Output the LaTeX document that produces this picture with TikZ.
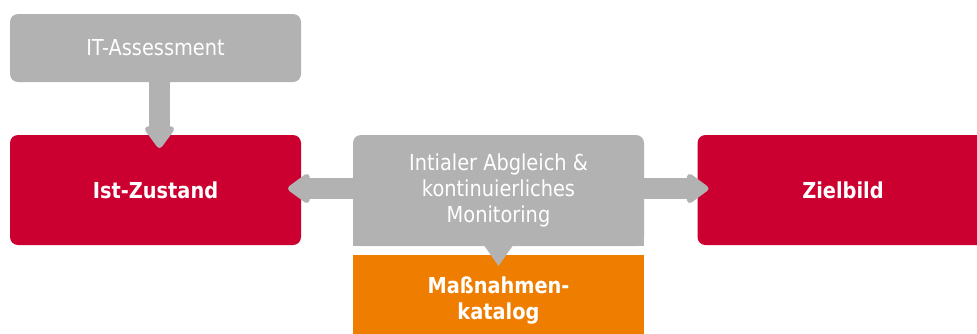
\documentclass[tikz,border=0pt]{standalone}
\usepackage{fontspec}
\setmainfont{DejaVu Sans}[FakeStretch=0.88]
\usetikzlibrary{arrows.meta}
\definecolor{lgrau}{HTML}{B2B2B2}
\definecolor{drot}{HTML}{CC0030}
\definecolor{morange}{HTML}{EF7D00}
\begin{document}
\begin{tikzpicture}[x=0.75pt,y=-0.75pt,
    box/.style={inner sep=0pt, outer sep=0pt, minimum width=218.25pt, align=center, text=white,
        font=\fontsize{16.5}{19.5}\selectfont},
    fett/.style={font=\fontsize{16.5}{19.5}\selectfont\bfseries},
    pfeil/.style={lgrau, line width=16pt, -{Triangle[width=25pt,length=18pt,round]}}]
    \useasboundingbox (0,0) rectangle (977,333);
    \node[box, fill=lgrau, rounded corners=6pt, minimum height=51pt] (it) at (155.5,48) {IT-Assessment};
    \node[box, fett, fill=drot, rounded corners=6pt, minimum height=82.5pt] (ist) at (155.5,190) {Ist-Zustand};
    \node[box, fett, fill=drot, rounded corners=6pt, minimum height=82.5pt] (ziel) at (843,190) {Zielbild};
    \node[box, fett, fill=morange, minimum height=69pt] (katalog) at (498.5,301) {Maßnahmen-\\katalog};
    \node[box, fill=lgrau, rounded corners=6pt, minimum height=83.25pt] (abgleich) at (498.5,190.5) {};
    \fill[lgrau] (abgleich.south west) rectangle ([yshift=8pt]abgleich.south east);
    \node[box] at (abgleich) {Intialer Abgleich \&\\kontinuierliches\\Monitoring};
    % pfeile
    \draw[pfeil, shorten >=-9.75pt] ([xshift=3pt]it.south) -- ([xshift=3pt]ist.north);
    \draw[pfeil, shorten >=-9.75pt] ([yshift=1.5pt]abgleich.west) -- ([yshift=1.5pt]abgleich.west -| ist.east);
    \draw[pfeil, shorten >=-8.25pt] ([yshift=1.5pt]abgleich.east) -- ([yshift=1.5pt]abgleich.east -| ziel.west);
    \fill[lgrau] ([xshift=-10.5pt]abgleich.south) -- ([yshift=-15pt]abgleich.south) -- ([xshift=10.5pt]abgleich.south) -- cycle;
\end{tikzpicture}
\end{document}
